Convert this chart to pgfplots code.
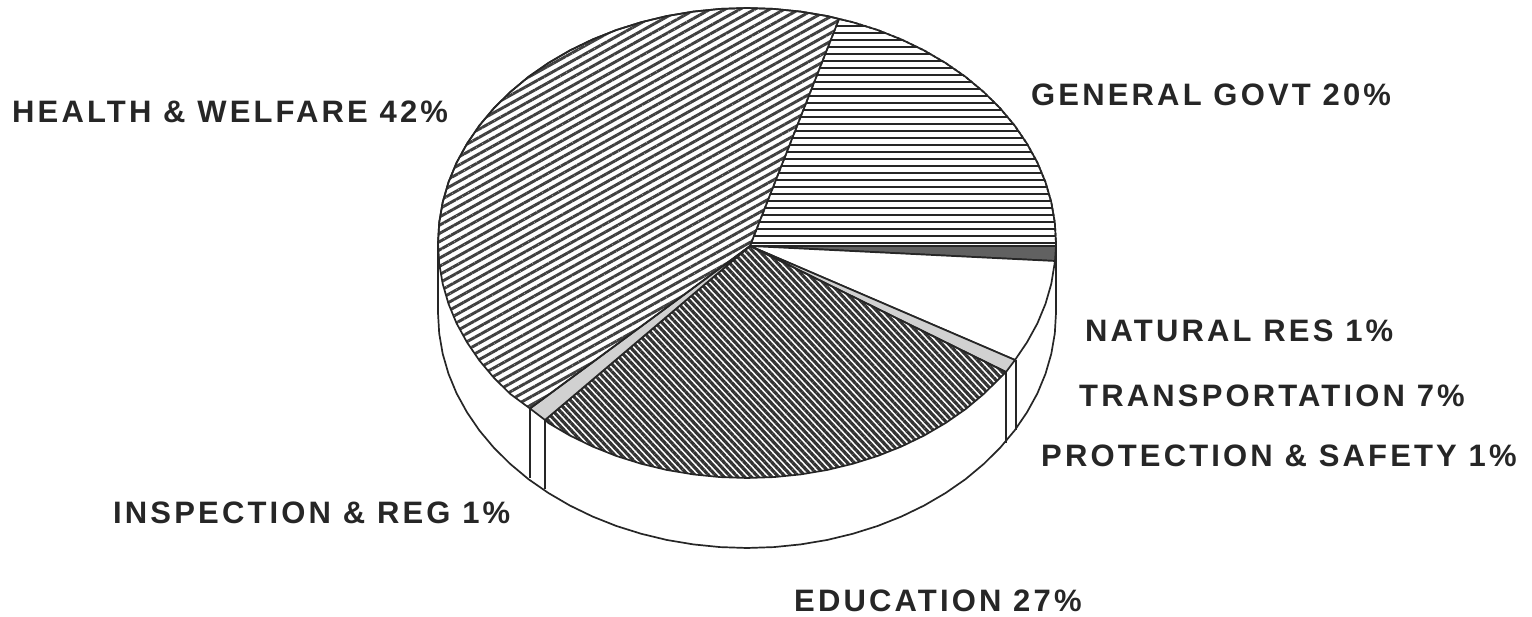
\documentclass[border=0pt]{standalone}
\usepackage{fontspec}
\setmainfont{Liberation Sans}[LetterSpace=10.2]
\usepackage{pgfplots}
\pgfplotsset{compat=1.18}
\usetikzlibrary{patterns.meta}
\begin{document}
\begin{tikzpicture}
\begin{axis}[width=1532pt,height=617pt,scale only axis,hide axis,
  xmin=0,xmax=1532,ymin=0,ymax=617,y dir=reverse,
  every axis plot post/.append style={mark=none,line width=1.7pt,line join=round,draw=black!85}]
\path (axis cs:0,0) (axis cs:1532,617);
% silhouette: side wall and white ground under the hatching
\addplot[fill=white] coordinates {(1056,243)(1056,313)(1054.8,333.5)(1051.3,353.8)(1045.5,373.8)(1037.4,393.4)(1027,412.3)(1014.6,430.5)(1000.1,447.8)(983.7,464)(965.5,479.2)(945.6,493)(924.2,505.5)(901.5,516.5)(877.6,526)(852.7,533.8)(827,540)(800.7,544.4)(773.9,547.1)(747,548)(720.1,547.1)(693.3,544.4)(667,540)(641.3,533.8)(616.4,526)(592.5,516.5)(569.8,505.5)(548.4,493)(528.5,479.2)(510.3,464)(493.9,447.8)(479.4,430.5)(467,412.3)(456.6,393.4)(448.5,373.8)(442.7,353.8)(439.2,333.5)(438,313)(438,243)(439.2,222.5)(442.7,202.2)(448.5,182.2)(456.6,162.6)(467,143.7)(479.4,125.5)(493.9,108.2)(510.3,92)(528.5,76.8)(548.4,63)(569.8,50.5)(592.5,39.5)(616.4,30)(641.3,22.2)(667,16)(693.3,11.6)(720.1,8.9)(747,8)(773.9,8.9)(800.7,11.6)(827,16)(852.7,22.2)(877.6,30)(901.5,39.5)(924.2,50.5)(945.6,63)(965.5,76.8)(983.7,92)(1000.1,108.2)(1014.6,125.5)(1027,143.7)(1037.4,162.6)(1045.5,182.2)(1051.3,202.2)(1054.8,222.5)} --cycle;
\addplot coordinates {(1016,360)(1016,430)};
\addplot coordinates {(1006,372)(1006,443)};
\addplot coordinates {(530,408.5)(530,478)};
\addplot coordinates {(545,420)(545,489)};
% general govt: its horizontal hatch lines, then its outline
\addplot[unbounded coords=jump,line width=2.3pt,draw=black!68] coordinates {
(836.2,26)(865.6,26)(0,nan)(833.5,33)(885.7,33)(0,nan)(830.8,40)(902.7,40)(0,nan)(828,47)(917.5,47)(0,nan)
(825.3,54)(930.6,54)(0,nan)(822.5,61)(942.5,61)(0,nan)(819.8,68)(953.2,68)(0,nan)(817,75)(963,75)(0,nan)
(814.3,82)(972,82)(0,nan)(811.5,89)(980.4,89)(0,nan)(808.8,96)(988,96)(0,nan)(806,103)(995.2,103)(0,nan)
(803.3,110)(1001.7,110)(0,nan)(800.6,117)(1007.8,117)(0,nan)(797.8,124)(1013.4,124)(0,nan)(795.1,131)(1018.6,131)(0,nan)
(792.3,138)(1023.4,138)(0,nan)(789.6,145)(1027.9,145)(0,nan)(786.8,152)(1031.9,152)(0,nan)(784.1,159)(1035.6,159)(0,nan)
(781.4,166)(1038.9,166)(0,nan)(778.6,173)(1042,173)(0,nan)(775.9,180)(1044.7,180)(0,nan)(773.1,187)(1047.1,187)(0,nan)
(770.4,194)(1049.2,194)(0,nan)(767.6,201)(1051,201)(0,nan)(764.9,208)(1052.6,208)(0,nan)(762.2,215)(1053.8,215)(0,nan)
(759.4,222)(1054.8,222)(0,nan)(756.7,229)(1055.4,229)(0,nan)(753.9,236)(1055.9,236)(0,nan)(751.2,243)(1056,243)};
\addplot coordinates {(750,246)(839,19)(852.7,22.2)(877.6,30)(901.5,39.5)(924.2,50.5)(945.6,63)(965.5,76.8)(983.7,92)(1000.1,108.2)(1014.6,125.5)(1027,143.7)(1037.4,162.6)(1045.5,182.2)(1051.3,202.2)(1054.8,222.5)(1056,243)(1056,246)} --cycle;
% natural res
\addplot[fill=black!62] coordinates {(750,246)(1056,246)(1055,261)} --cycle;
% transportation
\addplot[fill=white] coordinates {(750,246)(1055,261)(1051.3,283.8)(1045.5,303.8)(1037.4,323.4)(1027,342.3)(1015,360)} --cycle;
% protection
\addplot[fill=black!18] coordinates {(750,246)(1015,360)(1006,372)} --cycle;
% education
\addplot[pattern={Lines[angle=-47,distance=5pt,line width=3.2pt]},pattern color=black!80] coordinates {(750,246)(1006,372)(1000.1,377.8)(983.7,394)(965.5,409.2)(945.6,423)(924.2,435.5)(901.5,446.5)(877.6,456)(852.7,463.8)(827,470)(800.7,474.4)(773.9,477.1)(747,478)(720.1,477.1)(693.3,474.4)(667,470)(641.3,463.8)(616.4,456)(592.5,446.5)(569.8,435.5)(548.4,423)(545,420)} --cycle;
% inspection
\addplot[fill=black!18] coordinates {(750,246)(545,420)(530,408.5)} --cycle;
% health
\addplot[pattern={Lines[angle=29,distance=7.2pt,line width=2.9pt]},pattern color=black!75] coordinates {(750,246)(530,408.5)(510.3,394)(493.9,377.8)(479.4,360.5)(467,342.3)(456.6,323.4)(448.5,303.8)(442.7,283.8)(439.2,263.5)(438,243)(439.2,222.5)(442.7,202.2)(448.5,182.2)(456.6,162.6)(467,143.7)(479.4,125.5)(493.9,108.2)(510.3,92)(528.5,76.8)(548.4,63)(569.8,50.5)(592.5,39.5)(616.4,30)(641.3,22.2)(667,16)(693.3,11.6)(720.1,8.9)(747,8)(773.9,8.9)(800.7,11.6)(827,16)(839,19)} --cycle;
% labels
\begin{scope}[every node/.style={anchor=west,inner sep=0pt,text=black!85,font=\fontsize{31}{37}\selectfont\bfseries}]
\node at (axis cs:12,112) {HEALTH \& WELFARE 42\%};
\node at (axis cs:1031,95) {GENERAL GOVT 20\%};
\node at (axis cs:1085,331) {NATURAL RES 1\%};
\node at (axis cs:1079,396) {TRANSPORTATION 7\%};
\node at (axis cs:1041,456) {PROTECTION \& SAFETY 1\%};
\node at (axis cs:113,513) {INSPECTION \& REG 1\%};
\node at (axis cs:794,601) {EDUCATION 27\%};
\end{scope}
\end{axis}
\end{tikzpicture}
\end{document}
